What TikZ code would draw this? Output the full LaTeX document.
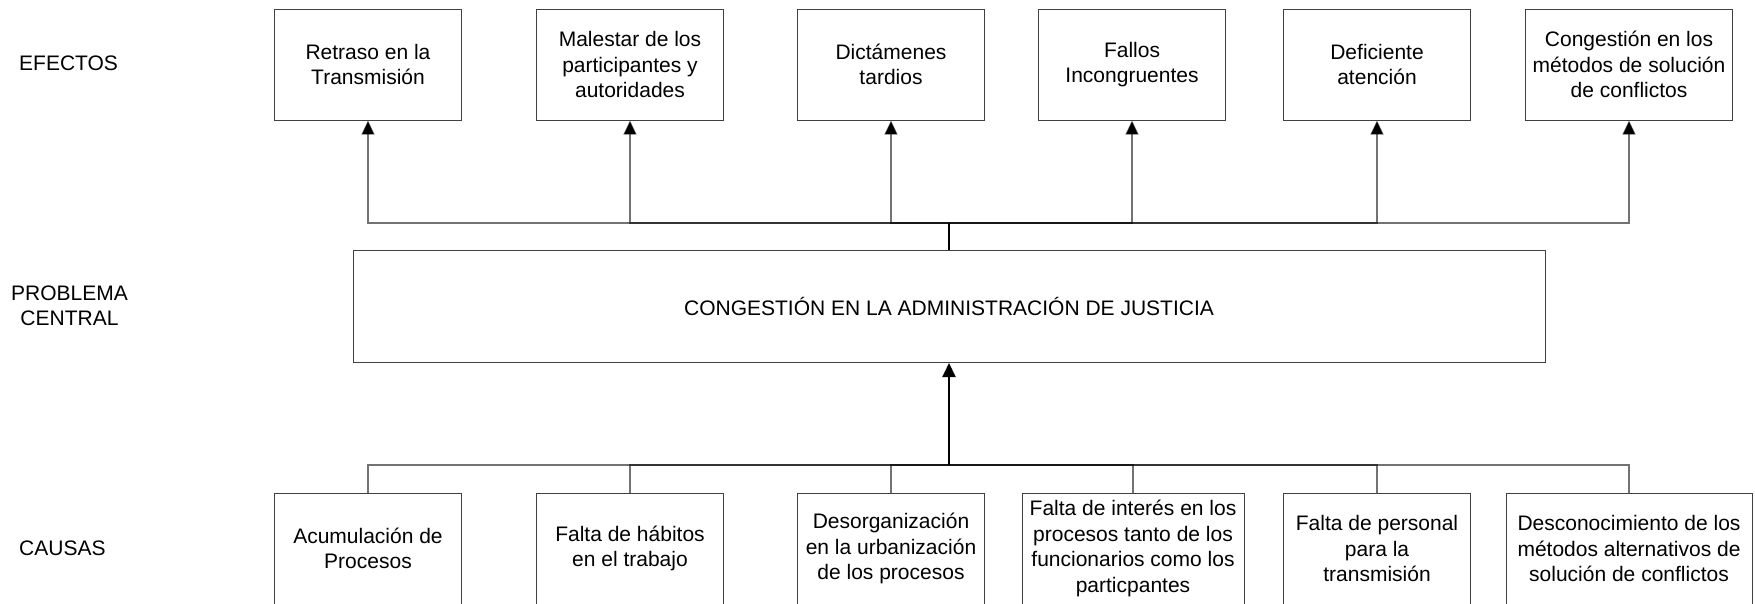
\documentclass[tikz,border=0pt]{standalone}
\usepackage{fontspec}
\setmainfont{Liberation Sans}
\usetikzlibrary{arrows.meta}
\tikzset{
  txt/.style={font=\fontsize{21}{25.5}\selectfont},
  box/.style={txt, draw=black!75, line width=1pt, minimum height=111pt, inner sep=0pt, align=center},
  conn/.style={draw=black, line width=1.2pt, draw opacity=0.55},
  trunk/.style={draw=black, line width=2pt},
  tipa/.style={-{Triangle[length=14pt,width=13pt]}},
  lab/.style={txt, inner sep=0pt, align=center}
}
\begin{document}
\begin{tikzpicture}[x=1pt,y=-1pt]
\useasboundingbox (0,0) rectangle (1755,603);
% labels
\node[lab, anchor=west] (lef) at (19,63) {EFECTOS};
\node[lab] (lpc) at (69.5,306) {PROBLEMA\\CENTRAL};
\node[lab, anchor=west] (lca) at (19,548) {CAUSAS};
% effects
\node[box, minimum width=187pt] (e1) at (368,64.5) {Retraso en la\\Transmisión};
\node[box, minimum width=187pt] (e2) at (630,64.5) {Malestar de los\\participantes y\\autoridades};
\node[box, minimum width=187pt] (e3) at (891,64.5) {Dictámenes\\tardios};
\node[box, minimum width=187pt] (e4) at (1132,64.5) {Fallos\\Incongruentes};
\node[box, minimum width=187pt] (e5) at (1377,64.5) {Deficiente\\atención};
\node[box, minimum width=207pt] (e6) at (1629,64.5) {Congestión en los\\métodos de solución\\de conflictos};
% central problem
\node[box, minimum width=1192pt, minimum height=112pt] (P) at (949,306.5) {CONGESTIÓN EN LA ADMINISTRACIÓN DE JUSTICIA};
% causes
\node[box, minimum width=187pt] (c1) at (368,548.5) {Acumulación de\\Procesos};
\node[box, minimum width=187pt] (c2) at (630,548.5) {Falta de hábitos\\en el trabajo};
\node[box, minimum width=187pt] (c3) at (891,548.5) {Desorganización\\en la urbanización\\de los procesos};
\node[box, minimum width=222pt] (c4) at (1133,548.5) {Falta de interés en los\\procesos tanto de los\\funcionarios como los\\particpantes};
\node[box, minimum width=187pt] (c5) at (1377,548.5) {Falta de personal\\para la\\transmisión};
\node[box, minimum width=246pt] (c6) at (1629,548.5) {Desconocimiento de los\\métodos alternativos de\\solución de conflictos};
% junctions
\coordinate (top) at (949,223);
\coordinate (bot) at (949,465);
% effect connectors
\draw[trunk] (P.north) -- (top);
\foreach \n in {e1,e2,e3,e4,e5,e6}
  \draw[conn, tipa] (top) -| (\n.south);
% cause connectors
\foreach \n in {c1,c2,c3,c4,c5,c6}
  \draw[conn] (\n.north) |- (bot);
\draw[trunk, tipa] (bot) -- (P.south);
\end{tikzpicture}
\end{document}
